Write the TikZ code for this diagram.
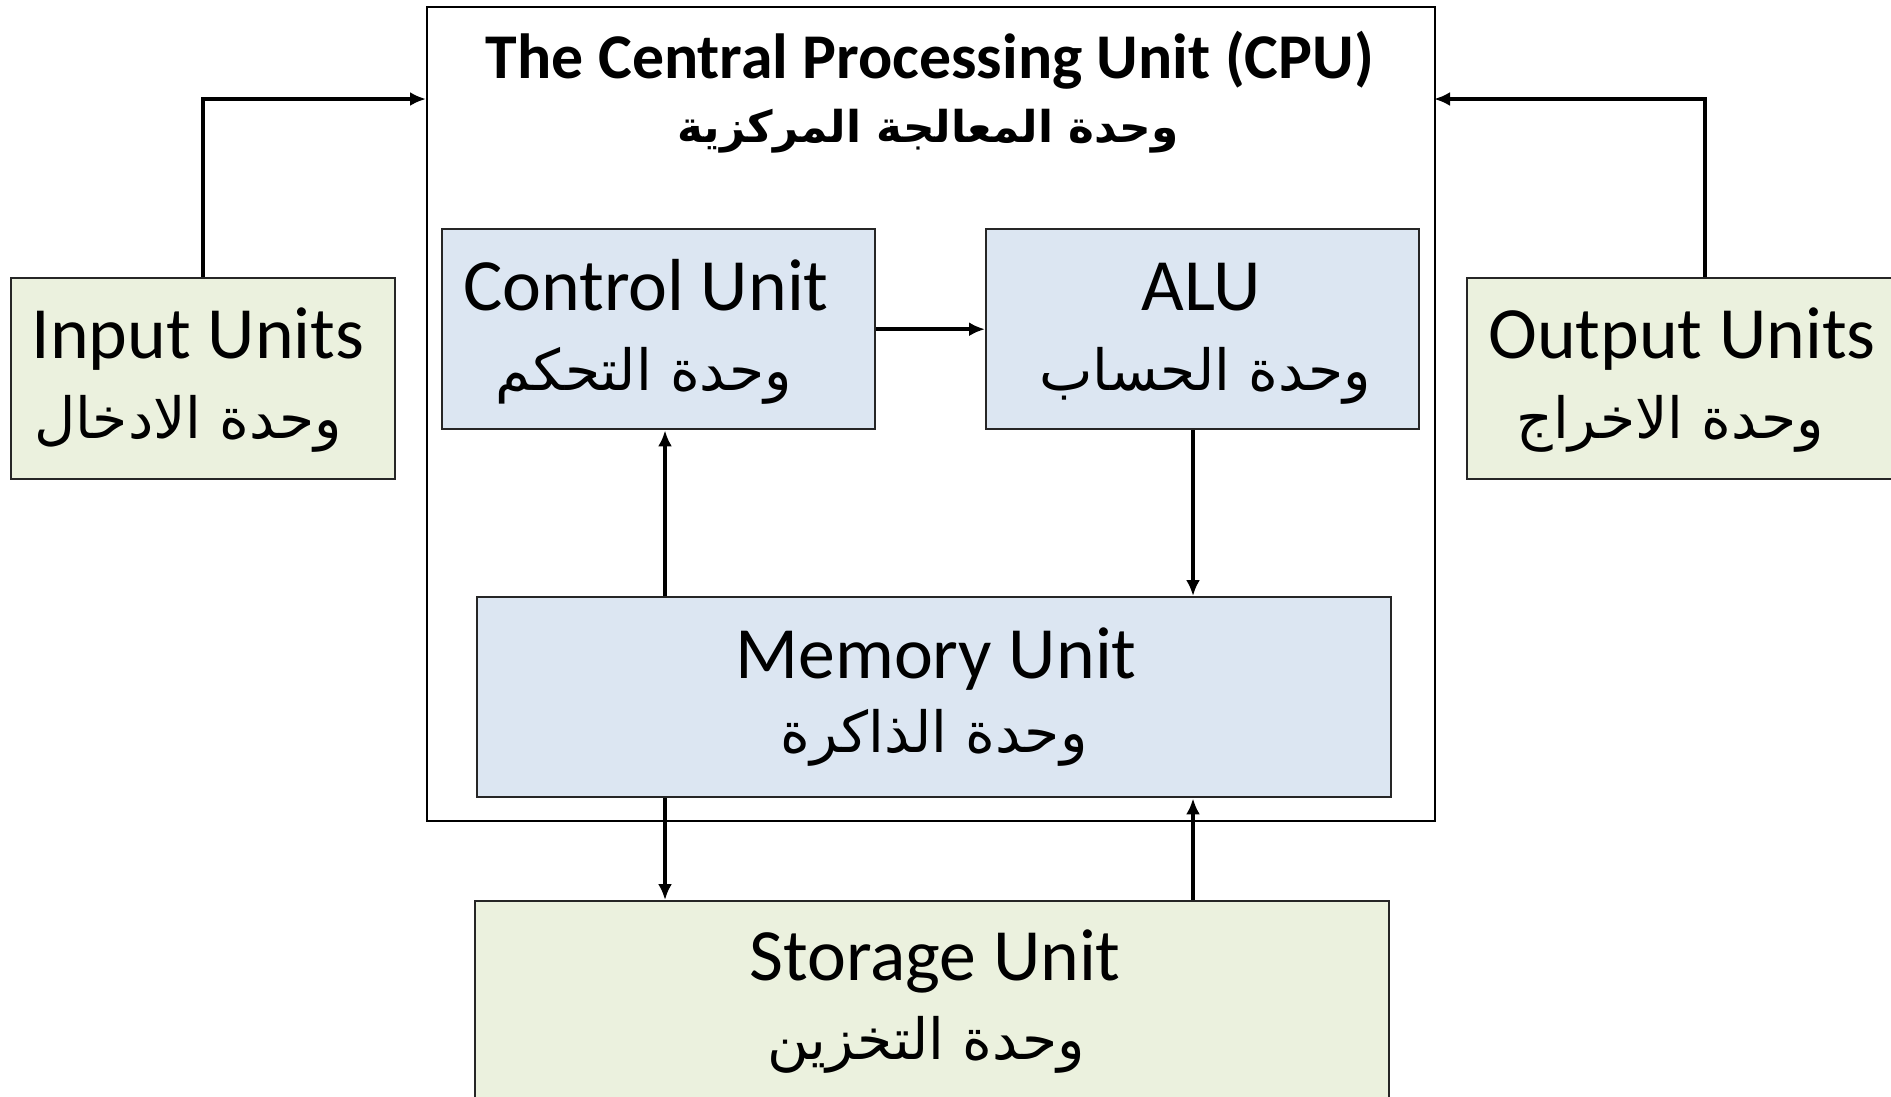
\documentclass[tikz,border=0pt]{standalone}
\usepackage{fontspec}
\setmainfont{Carlito}
\newfontfamily\arabicfont[Script=Arabic]{DejaVu Sans}
\TeXXeTstate=1
\usetikzlibrary{arrows.meta}
\definecolor{bluebox}{HTML}{DCE6F2}
\definecolor{greenbox}{HTML}{EBF1DE}
\definecolor{boxline}{HTML}{262626}
\tikzset{
  unitbox/.style={draw=boxline, line width=1.2bp, inner sep=0pt, anchor=north west},
  cpubox/.style={draw=black, line width=0.9bp, fill=white, inner sep=0pt, anchor=north west},
  entext/.style={font=\fontsize{37}{40}\selectfont, anchor=base, inner sep=0pt},
  artext/.style={font=\arabicfont\fontsize{28.5}{32}\selectfont, anchor=center, inner sep=0pt},
  arr/.style={line width=1.9bp, -{Latex[length=8bp,width=7bp]}},
}
\begin{document}
\begin{tikzpicture}[x=0.5bp,y=-0.5bp]
\useasboundingbox (0,0) rectangle (1891,1096);
% CPU frame
\node[cpubox, minimum width=504bp, minimum height=407bp] (cpu) at (426,6) {};
\node[font=\bfseries\fontsize{32}{36}\selectfont, anchor=base, inner sep=0pt] (cputitle) at (930,78) {The Central Processing Unit (CPU)};
\node[font=\arabicfont\bfseries\fontsize{22}{28}\selectfont, anchor=center, inner sep=0pt] (cpuar) at (928,131) {\beginR وحدة المعالجة المركزية\endR};
% boxes
\node[unitbox, fill=greenbox, minimum width=192bp, minimum height=100.5bp] (in) at (10,277) {};
\node[unitbox, fill=greenbox, minimum width=220bp, minimum height=100.5bp] (out) at (1466,277) {};
\node[unitbox, fill=bluebox, minimum width=216.5bp, minimum height=100bp] (cu) at (441,228) {};
\node[unitbox, fill=bluebox, minimum width=216.5bp, minimum height=100bp] (alu) at (985,228) {};
\node[unitbox, fill=bluebox, minimum width=457bp, minimum height=100bp] (mem) at (476,596) {};
\node[unitbox, fill=greenbox, minimum width=457bp, minimum height=110bp] (sto) at (474,900) {};
% texts
\node[entext] (inen) at (198,358) {Input Units};
\node[artext] (inar) at (188,424) {\beginR وحدة الادخال\endR};
\node[entext] (outen) at (1682,358) {Output Units};
\node[artext] (outar) at (1670,424) {\beginR وحدة الاخراج\endR};
\node[entext] (cuen) at (646,310) {Control Unit};
\node[artext] (cuar) at (644,376) {\beginR وحدة التحكم\endR};
\node[entext] (aluen) at (1201,310) {ALU};
\node[artext] (aluar) at (1205,376) {\beginR وحدة الحساب\endR};
\node[entext] (memen) at (936,678) {Memory Unit};
\node[artext] (memar) at (934,738) {\beginR وحدة الذاكرة\endR};
\node[entext] (stoen) at (935,980) {Storage Unit};
\node[artext] (stoar) at (926,1045) {\beginR وحدة التخزين\endR};
% coordinates
\coordinate (cpuin) at (426,99);
\coordinate (cpuout) at (1434,99);
\coordinate (outtop) at (1705,277);
\coordinate (lx) at (665,0);
\coordinate (rx) at (1193,0);
% connectors
\draw[arr] (in.north) |- (cpuin);
\draw[arr] (outtop) |- (cpuout);
\draw[arr] (cu.east) -- (alu.west);
\draw[arr] (mem.north -| lx) -- (cu.south -| lx);
\draw[arr] (alu.south -| rx) -- (mem.north -| rx);
\draw[arr] (mem.south -| lx) -- (sto.north -| lx);
\draw[arr] (sto.north -| rx) -- (mem.south -| rx);
\end{tikzpicture}
\end{document}
